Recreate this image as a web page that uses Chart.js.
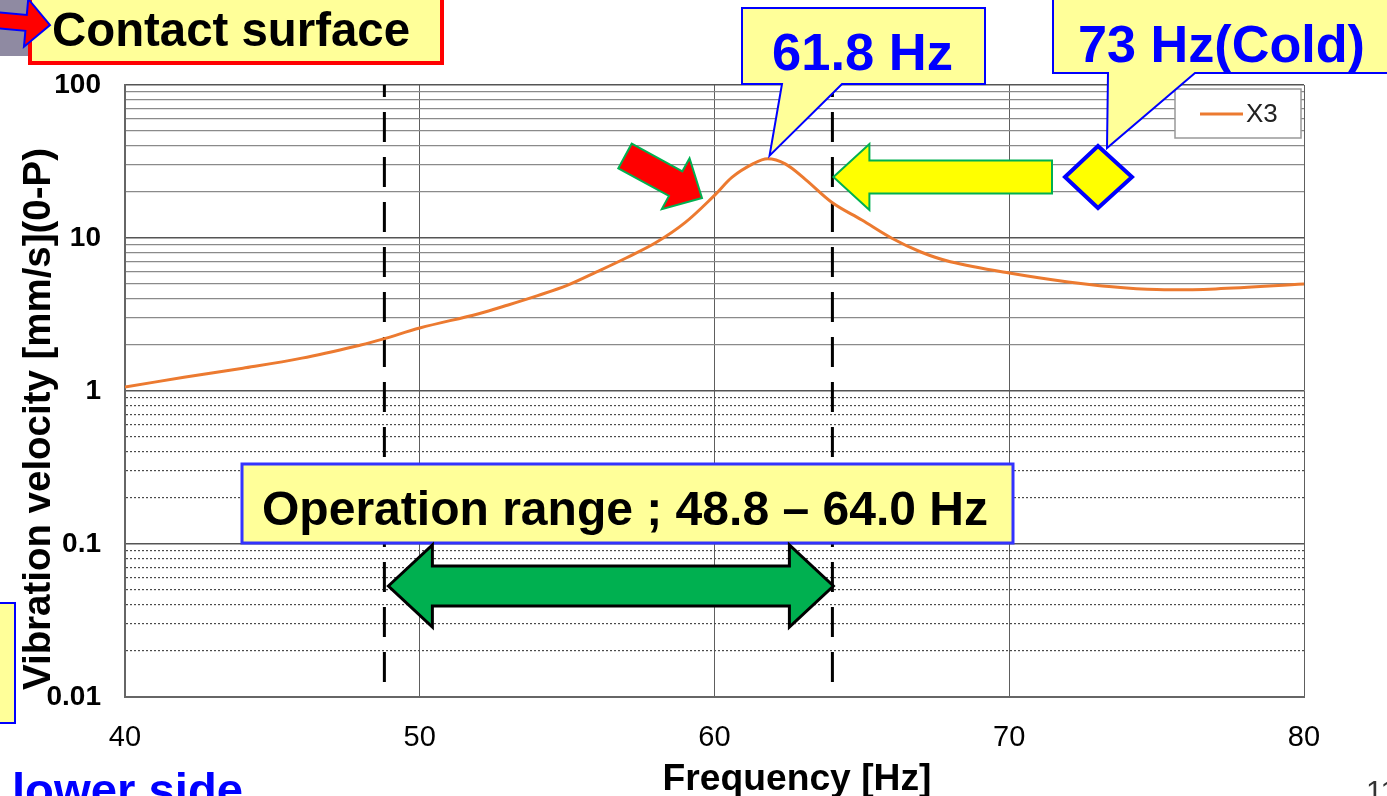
<!DOCTYPE html>
<html lang="en">
<head>
<meta charset="UTF-8">
<title>Vibration velocity - X3</title>
<script src="https://cdn.jsdelivr.net/npm/chart.js"></script>
<style>
  html, body { margin: 0; padding: 0; background: #fff; overflow: hidden; }
  #wrap { position: relative; width: 1387px; height: 796px; }
</style>
</head>
<body>
<div id="wrap"><canvas id="chart"></canvas></div>
<script>
// values
const freq     = [40, 42, 44, 46, 48, 48.8, 50, 52, 53, 54, 55, 56, 57, 58, 59, 60, 60.6, 61.3, 61.8, 62.4, 63.1, 64, 65, 66, 67, 68, 70, 72, 73, 75, 77, 80];
const velocity = [1.06, 1.23, 1.41, 1.64, 2.0, 2.2, 2.58, 3.2, 3.65, 4.2, 4.9, 6.0, 7.4, 9.3, 12.6, 19, 25, 30.5, 33, 30.5, 24, 17, 13.1, 10, 8.1, 7.0, 5.9, 5.15, 4.9, 4.6, 4.65, 5.0];
const xTicks = [40, 50, 60, 70, 80];
const yDecades = [0.01, 0.1, 1, 10, 100];
const operationRange = [48.8, 64.0];
const peakFreq = 61.8;
const peakVel = 33;

// log grid: 1..9 in every decade
const yGrid = [];
for (let i = 0; i < yDecades.length - 1; i++) {
  for (let k = 1; k <= 9; k++) yGrid.push(+(yDecades[i] * k).toPrecision(6));
}
yGrid.push(yDecades[yDecades.length - 1]);

const FONT = '"Liberation Sans", Arial, sans-serif';

function poly(ctx, pts, fill, stroke, lw) {
  ctx.beginPath();
  pts.forEach((p, i) => i ? ctx.lineTo(p[0], p[1]) : ctx.moveTo(p[0], p[1]));
  ctx.closePath();
  ctx.fillStyle = fill; ctx.fill();
  if (stroke) { ctx.lineJoin = 'miter'; ctx.strokeStyle = stroke; ctx.lineWidth = lw; ctx.stroke(); }
}

function arrowPts(x0, y0, x1, y1, sh, hh, hl) {
  const L = Math.hypot(x1 - x0, y1 - y0);
  const dx = (x1 - x0) / L, dy = (y1 - y0) / L;
  const nx = -dy, ny = dx;
  const bx = x1 - dx * hl, by = y1 - dy * hl;
  return [
    [x0 + nx * sh, y0 + ny * sh], [bx + nx * sh, by + ny * sh], [bx + nx * hh, by + ny * hh],
    [x1, y1],
    [bx - nx * hh, by - ny * hh], [bx - nx * sh, by - ny * sh], [x0 - nx * sh, y0 - ny * sh]
  ];
}

function dblArrowPts(x0, x1, y, sh, hh, hl) {
  return [
    [x0, y], [x0 + hl, y - hh], [x0 + hl, y - sh], [x1 - hl, y - sh], [x1 - hl, y - hh],
    [x1, y], [x1 - hl, y + hh], [x1 - hl, y + sh], [x0 + hl, y + sh], [x0 + hl, y + hh]
  ];
}

// draw text squeezed/stretched to a given width
function fitText(ctx, txt, x, y, w, font, color, align) {
  ctx.save();
  ctx.font = font; ctx.fillStyle = color;
  ctx.textAlign = 'left'; ctx.textBaseline = 'alphabetic';
  const m = ctx.measureText(txt).width;
  ctx.translate(x, y); ctx.scale(w / m, 1);
  ctx.fillText(txt, align === 'center' ? -m / 2 : 0, 0);
  ctx.restore();
}

const overlay = {
  id: 'overlay',
  beforeDatasetsDraw(chart) {
    const { ctx, chartArea: a, scales: { x } } = chart;
    ctx.save();
    ctx.strokeStyle = '#000'; ctx.lineWidth = 3;
    ctx.setLineDash([30, 15]); ctx.lineDashOffset = 18;
    operationRange.forEach(f => {
      const px = x.getPixelForValue(f);
      ctx.beginPath(); ctx.moveTo(px, a.top); ctx.lineTo(px, a.bottom); ctx.stroke();
    });
    ctx.restore();
  },
  afterDraw(chart) {
    const { ctx, scales: { x, y } } = chart;
    const ds = chart.data.datasets[0];
    ctx.save();

    // legend
    ctx.fillStyle = '#fff'; ctx.fillRect(1175, 89, 126, 49);
    ctx.strokeStyle = '#999'; ctx.lineWidth = 1.5; ctx.strokeRect(1175, 89, 126, 49);
    ctx.strokeStyle = ds.borderColor; ctx.lineWidth = 3;
    ctx.beginPath(); ctx.moveTo(1200, 114); ctx.lineTo(1243, 114); ctx.stroke();
    ctx.font = '26px ' + FONT; ctx.fillStyle = '#222'; ctx.textBaseline = 'middle';
    ctx.fillText(ds.label, 1246, 115);

    // axis titles
    fitText(ctx, 'Frequency [Hz]', 797, 790, 269, 'bold 37px ' + FONT, '#000', 'center');
    ctx.save();
    ctx.translate(50, 419); ctx.rotate(-Math.PI / 2);
    fitText(ctx, 'Vibration velocity [mm/s](0-P)', 0, 0, 542, 'bold 38px ' + FONT, '#000', 'center');
    ctx.restore();

    // top-left: Contact surface
    ctx.fillStyle = '#8f8aa2'; ctx.fillRect(0, 0, 30, 56);
    ctx.fillStyle = '#FFFF99'; ctx.fillRect(30, -5, 412, 68);
    ctx.strokeStyle = '#FF0000'; ctx.lineWidth = 4; ctx.strokeRect(30, -5, 412, 68);
    poly(ctx, arrowPts(-40, 17, 50, 25, 8, 24, 24), '#FF0000', '#0000FF', 2);
    fitText(ctx, 'Contact surface', 52, 46, 358, 'bold 48px ' + FONT, '#000');

    // peak callout
    const px = x.getPixelForValue(peakFreq), py = y.getPixelForValue(peakVel);
    poly(ctx, [[742, 8], [985, 8], [985, 84], [842, 84], [px + 2, py - 3], [782, 84], [742, 84]], '#FFFF99', '#0000FF', 2);
    fitText(ctx, peakFreq.toFixed(1) + ' Hz', 772, 70, 181, 'bold 52px ' + FONT, '#0000FF');

    // 73 Hz (cold) callout
    poly(ctx, [[1053, -5], [1395, -5], [1395, 73], [1195, 73], [1107, 148], [1108, 73], [1053, 73]], '#FFFF99', '#0000FF', 2);
    fitText(ctx, '73 Hz(Cold)', 1078, 62, 287, 'bold 52px ' + FONT, '#0000FF');

    // yellow arrow to the 64 Hz line
    const x64 = x.getPixelForValue(operationRange[1]);
    poly(ctx, arrowPts(1052, 177, x64 + 1, 177, 16.5, 33, 36), '#FFFF00', '#00B050', 2);
    // diamond
    poly(ctx, [[1065, 177], [1098, 146], [1132, 177], [1098, 208]], '#FFFF00', '#0000FF', 4);

    // red arrow at the rising slope
    poly(ctx, arrowPts(625, 156, 702, 198, 14, 29, 30), '#FF0000', '#00B050', 2);

    // operation range box
    ctx.fillStyle = '#FFFF99'; ctx.fillRect(242, 464, 771, 79);
    ctx.strokeStyle = '#3333FF'; ctx.lineWidth = 3; ctx.strokeRect(242, 464, 771, 79);
    fitText(ctx, 'Operation range ; ' + operationRange[0].toFixed(1) + ' \u2013 ' + operationRange[1].toFixed(1) + ' Hz',
      262, 525, 726, 'bold 49px ' + FONT, '#000');

    // green double arrow spanning the range
    const x48 = x.getPixelForValue(operationRange[0]);
    poly(ctx, dblArrowPts(x48 + 4, x64 + 1, 586, 20, 41, 44), '#00B050', '#000', 3);

    // bottom-left leftovers
    ctx.fillStyle = '#FFFF99'; ctx.fillRect(-5, 603, 20, 120);
    ctx.strokeStyle = '#0000FF'; ctx.lineWidth = 2; ctx.strokeRect(-5, 603, 20, 120);
    fitText(ctx, 'lower side', 12, 806, 231, 'bold 47px ' + FONT, '#0000FF');
    ctx.font = '30px ' + FONT; ctx.fillStyle = '#333'; ctx.textBaseline = 'alphabetic';
    ctx.fillText('11', 1366, 801);

    ctx.restore();
  }
};

new Chart(document.getElementById('chart'), {
  type: 'line',
  data: {
    datasets: [{
      label: 'X3',
      data: freq.map((f, i) => ({ x: f, y: velocity[i] })),
      borderColor: '#EC7A30',
      borderWidth: 3,
      pointRadius: 0,
      tension: 0.35,
      fill: false
    }]
  },
  options: {
    responsive: true,
    maintainAspectRatio: false,
    animation: false,
    layout: { padding: { top: 85, right: 83, left: 0, bottom: 0 } },
    plugins: { legend: { display: false }, tooltip: { enabled: false } },
    scales: {
      x: {
        type: 'linear', min: 40, max: 80,
        afterBuildTicks: s => { s.ticks = xTicks.map(v => ({ value: v })); },
        afterFit: s => { s.height = 99; },
        ticks: { padding: 24, color: '#000', autoSkip: false, maxRotation: 0, font: { family: FONT, size: 29 } },
        grid: { color: '#5e5e5e', lineWidth: 1, drawTicks: false },
        border: { color: '#666', width: 2 }
      },
      y: {
        type: 'logarithmic', min: 0.01, max: 100,
        afterBuildTicks: s => { s.ticks = yGrid.map(v => ({ value: v })); },
        afterFit: s => { s.width = 125; },
        ticks: {
          autoSkip: false, padding: 24, color: '#000',
          font: { family: FONT, size: 28, weight: 'bold' },
          callback: v => yDecades.includes(v) ? String(v) : ''
        },
        grid: {
          drawTicks: false,
          color: c => {
            const v = c.tick ? c.tick.value : 1;
            if (yDecades.includes(v)) return '#555';
            return v >= 1 ? '#8a8a8a' : '#4a4a4a';
          },
          lineWidth: c => (c.tick && yDecades.includes(c.tick.value)) ? 1.5 : 1.2
        },
        border: {
          color: '#666', width: 2,
          dash: c => (c.tick && c.tick.value < 1 && !yDecades.includes(c.tick.value)) ? [2, 2] : []
        }
      }
    }
  },
  plugins: [overlay]
});
</script>
</body>
</html>
